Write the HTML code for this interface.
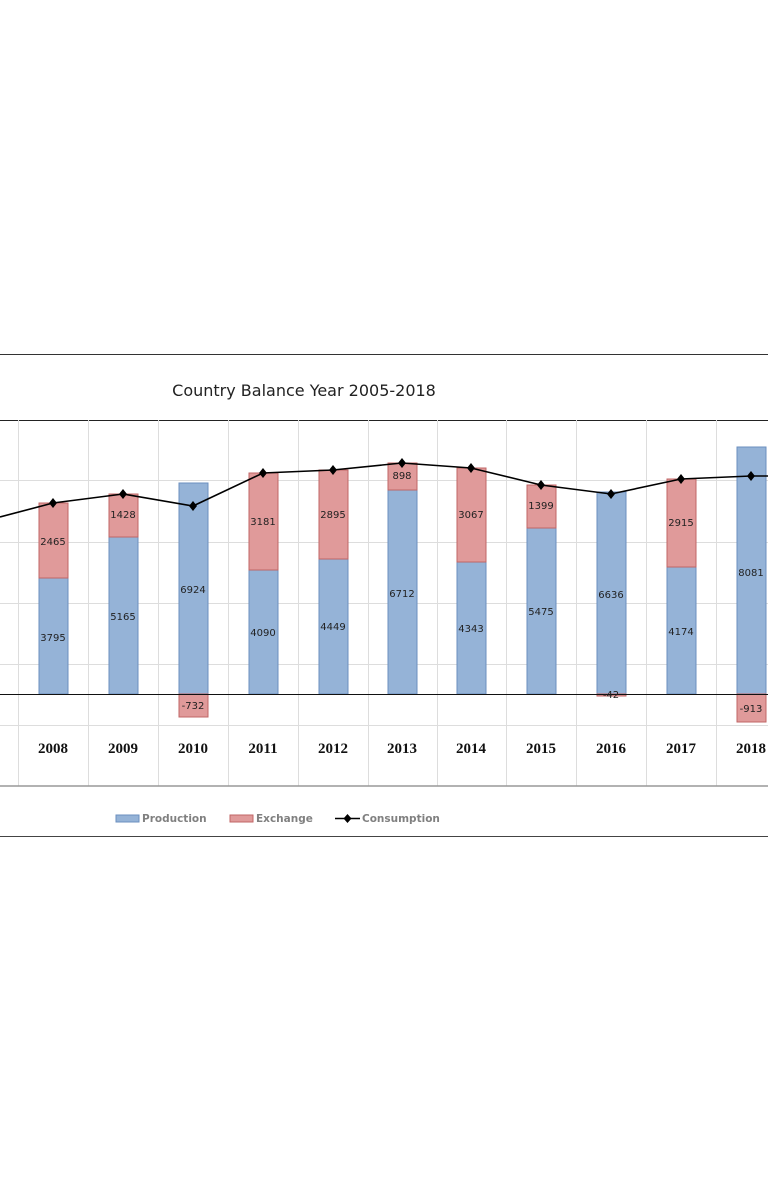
<!DOCTYPE html>
<html><head><meta charset="utf-8"><style>
html,body{margin:0;padding:0;background:#fff;}
svg{display:block}
.d{font-family:"DejaVu Sans","Liberation Sans",sans-serif;font-size:10px;fill:#222;text-anchor:middle}
.y{font-family:"Liberation Serif",serif;font-weight:bold;font-size:15px;fill:#111;text-anchor:middle}
.l{font-family:"DejaVu Sans","Liberation Sans",sans-serif;font-weight:bold;font-size:10.5px;fill:#808080}
</style></head><body>
<svg width="768" height="1200" xmlns="http://www.w3.org/2000/svg">
<rect width="768" height="1200" fill="#fff"/>
<line x1="0" y1="354.5" x2="768" y2="354.5" stroke="#333" stroke-width="1"/>
<text x="304" y="396" font-family="DejaVu Sans,Liberation Sans,sans-serif" font-size="16" fill="#222" text-anchor="middle">Country Balance Year 2005-2018</text>
<line x1="0" y1="420.5" x2="768" y2="420.5" stroke="#222" stroke-width="1"/>
<g stroke="#ddd" stroke-width="1">
<line x1="0" y1="480.5" x2="768" y2="480.5"/><line x1="0" y1="542.5" x2="768" y2="542.5"/>
<line x1="0" y1="603.5" x2="768" y2="603.5"/><line x1="0" y1="664.5" x2="768" y2="664.5"/>
<line x1="0" y1="725.5" x2="768" y2="725.5"/>
<line x1="18.5" y1="420" x2="18.5" y2="786"/><line x1="88.5" y1="420" x2="88.5" y2="786"/>
<line x1="158.5" y1="420" x2="158.5" y2="786"/><line x1="228.5" y1="420" x2="228.5" y2="786"/>
<line x1="298.5" y1="420" x2="298.5" y2="786"/><line x1="368.5" y1="420" x2="368.5" y2="786"/>
<line x1="437.5" y1="420" x2="437.5" y2="786"/><line x1="506.5" y1="420" x2="506.5" y2="786"/>
<line x1="576.5" y1="420" x2="576.5" y2="786"/><line x1="646.5" y1="420" x2="646.5" y2="786"/>
<line x1="716.5" y1="420" x2="716.5" y2="786"/>
</g>
<g stroke-width="1">
<rect x="39" y="578" width="29" height="116" fill="#95b3d7" stroke="#6b8fbf"/>
<rect x="39" y="503" width="29" height="75" fill="#e09a9a" stroke="#c06666"/>
<rect x="109" y="537" width="29" height="157" fill="#95b3d7" stroke="#6b8fbf"/>
<rect x="109" y="494" width="29" height="43" fill="#e09a9a" stroke="#c06666"/>
<rect x="179" y="483" width="29" height="211" fill="#95b3d7" stroke="#6b8fbf"/>
<rect x="179" y="694" width="29" height="23" fill="#e09a9a" stroke="#c06666"/>
<rect x="249" y="570" width="29" height="124" fill="#95b3d7" stroke="#6b8fbf"/>
<rect x="249" y="473" width="29" height="97" fill="#e09a9a" stroke="#c06666"/>
<rect x="319" y="559" width="29" height="135" fill="#95b3d7" stroke="#6b8fbf"/>
<rect x="319" y="470" width="29" height="89" fill="#e09a9a" stroke="#c06666"/>
<rect x="388" y="490" width="29" height="204" fill="#95b3d7" stroke="#6b8fbf"/>
<rect x="388" y="463" width="29" height="27" fill="#e09a9a" stroke="#c06666"/>
<rect x="457" y="562" width="29" height="132" fill="#95b3d7" stroke="#6b8fbf"/>
<rect x="457" y="468" width="29" height="94" fill="#e09a9a" stroke="#c06666"/>
<rect x="527" y="528" width="29" height="166" fill="#95b3d7" stroke="#6b8fbf"/>
<rect x="527" y="485" width="29" height="43" fill="#e09a9a" stroke="#c06666"/>
<rect x="597" y="492" width="29" height="202" fill="#95b3d7" stroke="#6b8fbf"/>
<rect x="597" y="694" width="29" height="2" fill="#e09a9a" stroke="#c06666"/>
<rect x="667" y="567" width="29" height="127" fill="#95b3d7" stroke="#6b8fbf"/>
<rect x="667" y="479" width="29" height="88" fill="#e09a9a" stroke="#c06666"/>
<rect x="737" y="447" width="29" height="247" fill="#95b3d7" stroke="#6b8fbf"/>
<rect x="737" y="694" width="29" height="28" fill="#e09a9a" stroke="#c06666"/>
</g>
<line x1="0" y1="694.5" x2="768" y2="694.5" stroke="#111" stroke-width="1"/>
<g>
<text class="d" x="53" y="641">3795</text><text class="d" x="53" y="545">2465</text>
<text class="d" x="123" y="620">5165</text><text class="d" x="123" y="518">1428</text>
<text class="d" x="193" y="593">6924</text><text class="d" x="193" y="709">-732</text>
<text class="d" x="263" y="636">4090</text><text class="d" x="263" y="525">3181</text>
<text class="d" x="333" y="630">4449</text><text class="d" x="333" y="518">2895</text>
<text class="d" x="402" y="597">6712</text><text class="d" x="402" y="479">898</text>
<text class="d" x="471" y="632">4343</text><text class="d" x="471" y="518">3067</text>
<text class="d" x="541" y="615">5475</text><text class="d" x="541" y="509">1399</text>
<text class="d" x="611" y="598">6636</text><text class="d" x="611" y="698">-42</text>
<text class="d" x="681" y="635">4174</text><text class="d" x="681" y="526">2915</text>
<text class="d" x="751" y="576">8081</text><text class="d" x="751" y="712">-913</text>
</g>
<polyline fill="none" stroke="#000" stroke-width="1.6" points="0,517 53,503 123,494 193,506 263,473 333,470 402,463 471,468 541,485 611,494 681,479 751,476 768,476"/>
<g fill="#000">
<path d="M53,498 l4,5 -4,5 -4,-5z"/><path d="M123,489 l4,5 -4,5 -4,-5z"/>
<path d="M193,501 l4,5 -4,5 -4,-5z"/><path d="M263,468 l4,5 -4,5 -4,-5z"/>
<path d="M333,465 l4,5 -4,5 -4,-5z"/><path d="M402,458 l4,5 -4,5 -4,-5z"/>
<path d="M471,463 l4,5 -4,5 -4,-5z"/><path d="M541,480 l4,5 -4,5 -4,-5z"/>
<path d="M611,489 l4,5 -4,5 -4,-5z"/><path d="M681,474 l4,5 -4,5 -4,-5z"/>
<path d="M751,471 l4,5 -4,5 -4,-5z"/>
</g>
<g>
<text class="y" x="53" y="753">2008</text><text class="y" x="123" y="753">2009</text>
<text class="y" x="193" y="753">2010</text><text class="y" x="263" y="753">2011</text>
<text class="y" x="333" y="753">2012</text><text class="y" x="402" y="753">2013</text>
<text class="y" x="471" y="753">2014</text><text class="y" x="541" y="753">2015</text>
<text class="y" x="611" y="753">2016</text><text class="y" x="681" y="753">2017</text>
<text class="y" x="751" y="753">2018</text>
</g>
<line x1="0" y1="786" x2="768" y2="786" stroke="#999" stroke-width="1.5"/>
<rect x="116" y="815" width="23" height="7" fill="#95b3d7" stroke="#6b8fbf"/>
<text class="l" x="142" y="822">Production</text>
<rect x="230" y="815" width="23" height="7" fill="#e09a9a" stroke="#c06666"/>
<text class="l" x="256" y="822">Exchange</text>
<line x1="335" y1="818.5" x2="360" y2="818.5" stroke="#000" stroke-width="1.5"/>
<path d="M347.5,814 l4,4.5 -4,4.5 -4,-4.5z" fill="#000"/>
<text class="l" x="362" y="822">Consumption</text>
<line x1="0" y1="836.5" x2="768" y2="836.5" stroke="#444" stroke-width="1"/>
</svg>
</body></html>
